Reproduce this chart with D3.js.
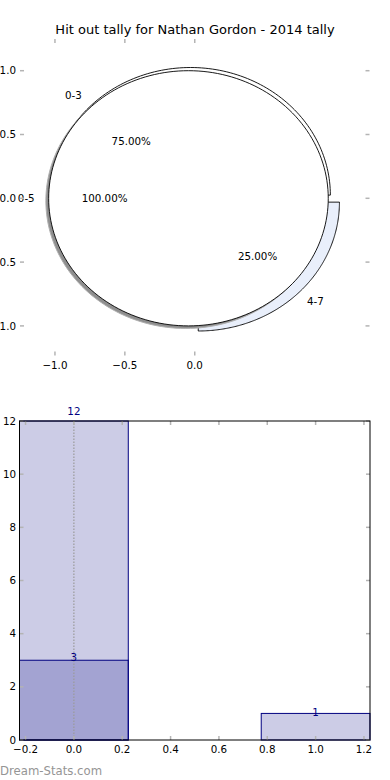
<!DOCTYPE html>
<html>
<head>
<meta charset="utf-8">
<script src="https://cdn.jsdelivr.net/npm/d3@7"></script>
<style>
  body { margin: 0; background: #fff; }
  text { font-family: "DejaVu Sans", sans-serif; }
</style>
</head>
<body>
<svg id="chart" width="390" height="780"></svg>
<script>
const title = "Hit out tally for Nathan Gordon - 2014 tally";

// pie: full range, then split
const outerLabels = ["0-5"];
const outerValues = [4];
const innerLabels = ["0-3", "4-7"];
const innerValues = [3, 1];
const pieTicksX = [-1.0, -0.5, 0.0];
const pieTicksY = [1.0, 0.5, 0.0, -0.5, -1.0];

// bars
const barCategories = [0, 1];
const barTotals = [12, 1];
const barSubset = [3, 0];
const barTicksX = [-0.2, 0.0, 0.2, 0.4, 0.6, 0.8, 1.0, 1.2];
const barTicksY = [0, 2, 4, 6, 8, 10, 12];

const svg = d3.select("#chart");
const fmt1 = (d) => d3.format(".1f")(d).replace("-", "\u2212");
const tickColor = "#b4b4b4";
const fs = "10.3px";

svg.append("text")
  .attr("x", 195)
  .attr("y", 34)
  .attr("text-anchor", "middle")
  .style("font-size", "13px")
  .text(title);

// ---------- pie ----------
const px = d3.scaleLinear().domain([-1.25, 1.25]).range([20, 369.5]);
const py = d3.scaleLinear().domain([-1.25, 1.25]).range([357.8, 38.8]);
const pieG = svg.append("g");

const line = d3.line().x((p) => px(p[0])).y((p) => py(p[1]));

// angles counter-clockwise from +x, like the original
const wedgePoints = (c, r, a0, a1) => {
  const pts = [];
  const n = 180;
  for (let i = 0; i <= n; i++) {
    const a = a0 + (a1 - a0) * (i / n);
    pts.push([c[0] + r * Math.cos(a), c[1] + r * Math.sin(a)]);
  }
  if (a1 - a0 < Math.PI * 2 - 1e-6) {
    pts.push(c);
    pts.push(pts[0]);
  }
  return pts;
};

const pie = d3.pie().sort(null).startAngle(0).endAngle(Math.PI * 2);
const outerArcs = pie(outerValues);
const innerArcs = pie(innerValues);

const outerCenter = [-0.045, 0];
const innerCenters = [[-0.03, 0.025], [0.025, -0.03]];
const innerRadii = [1.0, 1.01];
const innerFills = ["#ffffff", "#e9effb"];

const pct = (d, arr) => d3.format(".2f")((100 * d.value) / d3.sum(arr)) + "%";

// inner (split) pie first
innerArcs.forEach((d, i) => {
  pieG.append("path")
    .attr("d", line(wedgePoints(innerCenters[i], innerRadii[i], d.startAngle, d.endAngle)))
    .attr("fill", innerFills[i])
    .attr("stroke", "#000")
    .attr("stroke-width", 0.9);
});

// outer pie with shadow
outerArcs.forEach((d) => {
  const sc = [outerCenter[0] - 0.02, outerCenter[1] - 0.02];
  pieG.append("path")
    .attr("d", line(wedgePoints(sc, 1.0, d.startAngle, d.endAngle)))
    .attr("fill", "#8f8f8f")
    .attr("stroke", "#b0b0b0")
    .attr("stroke-width", 1);
  pieG.append("path")
    .attr("d", line(wedgePoints(outerCenter, 1.0, d.startAngle, d.endAngle)))
    .attr("fill", "#ffffff")
    .attr("stroke", "#000")
    .attr("stroke-width", 0.9);
});

const addPieLabels = (arcs, labels, values, centers) => {
  arcs.forEach((d, i) => {
    const c = centers[i];
    const mid = (d.startAngle + d.endAngle) / 2;
    const lx = c[0] + 1.1 * Math.cos(mid);
    const ly = c[1] + 1.1 * Math.sin(mid);
    pieG.append("text")
      .attr("x", px(lx))
      .attr("y", py(ly))
      .attr("dy", "0.35em")
      .attr("text-anchor", lx < 0 ? "end" : "start")
      .style("font-size", fs)
      .text(labels[i]);
    pieG.append("text")
      .attr("x", px(c[0] + 0.6 * Math.cos(mid)))
      .attr("y", py(c[1] + 0.6 * Math.sin(mid)))
      .attr("dy", "0.35em")
      .attr("text-anchor", "middle")
      .style("font-size", fs)
      .text(pct(d, values));
  });
};
addPieLabels(innerArcs, innerLabels, innerValues, innerCenters);
addPieLabels(outerArcs, outerLabels, outerValues, [outerCenter]);

// pie axes: ticks only, no frame
const pieAxes = svg.append("g");
pieTicksY.forEach((t) => {
  pieAxes.append("line").attr("x1", 20).attr("x2", 24).attr("y1", py(t)).attr("y2", py(t));
  pieAxes.append("line").attr("x1", 365.5).attr("x2", 369.5).attr("y1", py(t)).attr("y2", py(t));
  pieAxes.append("text")
    .attr("x", 16)
    .attr("y", py(t))
    .attr("dy", "0.35em")
    .attr("text-anchor", "end")
    .style("font-size", fs)
    .text(fmt1(t));
});
pieTicksX.forEach((t) => {
  pieAxes.append("line").attr("x1", px(t)).attr("x2", px(t)).attr("y1", 39).attr("y2", 43);
  pieAxes.append("line").attr("x1", px(t)).attr("x2", px(t)).attr("y1", 351.5).attr("y2", 355.5);
  pieAxes.append("text")
    .attr("x", px(t))
    .attr("y", 369)
    .attr("text-anchor", "middle")
    .style("font-size", fs)
    .text(fmt1(t));
});
pieAxes.selectAll("line").attr("stroke", tickColor).attr("stroke-width", 1.5);

// ---------- bars ----------
const bx = d3.scaleLinear().domain([-0.225, 1.225]).range([19.5, 370]);
const by = d3.scaleLinear().domain([0, 12]).range([740, 421]);
const barW = 0.45;
const barG = svg.append("g");

const drawBars = (vals) => {
  barCategories.forEach((c, i) => {
    if (vals[i] <= 0) return;
    barG.append("rect")
      .attr("x", bx(c - barW / 2))
      .attr("y", by(vals[i]))
      .attr("width", bx(c + barW / 2) - bx(c - barW / 2))
      .attr("height", by(0) - by(vals[i]))
      .attr("fill", "navy")
      .attr("fill-opacity", 0.2)
      .attr("stroke", "navy")
      .attr("stroke-width", 1);
  });
};
drawBars(barTotals);
drawBars(barSubset);

barG.append("line")
  .attr("x1", bx(0)).attr("x2", bx(0))
  .attr("y1", by(0)).attr("y2", by(12))
  .attr("stroke", "#9a9a9a")
  .attr("stroke-width", 1.2)
  .attr("stroke-dasharray", "1.5,1.5");

const addBarLabels = (vals) => {
  barCategories.forEach((c, i) => {
    if (vals[i] <= 0) return;
    barG.append("text")
      .attr("x", bx(c))
      .attr("y", by(vals[i] * 1.03))
      .attr("dy", "0.35em")
      .attr("text-anchor", "middle")
      .attr("fill", "navy")
      .style("font-size", fs)
      .text(vals[i]);
  });
};
addBarLabels(barTotals);
addBarLabels(barSubset);

const barAxes = svg.append("g");
barTicksY.forEach((t) => {
  barAxes.append("line").attr("class", "tk").attr("x1", 19.5).attr("x2", 23.5).attr("y1", by(t)).attr("y2", by(t));
  barAxes.append("line").attr("class", "tk").attr("x1", 366).attr("x2", 370).attr("y1", by(t)).attr("y2", by(t));
  barAxes.append("text")
    .attr("x", 16)
    .attr("y", by(t))
    .attr("dy", "0.35em")
    .attr("text-anchor", "end")
    .style("font-size", fs)
    .text(t);
});
barTicksX.forEach((t) => {
  barAxes.append("line").attr("class", "tk").attr("x1", bx(t)).attr("x2", bx(t)).attr("y1", 421).attr("y2", 425);
  barAxes.append("line").attr("class", "tk").attr("x1", bx(t)).attr("x2", bx(t)).attr("y1", 736).attr("y2", 740);
  barAxes.append("text")
    .attr("x", bx(t))
    .attr("y", 753)
    .attr("text-anchor", "middle")
    .style("font-size", fs)
    .text(fmt1(t));
});
barAxes.selectAll("line.tk").attr("stroke", tickColor).attr("stroke-width", 1.5);

barAxes.append("rect")
  .attr("x", 19.5)
  .attr("y", 421)
  .attr("width", 350.5)
  .attr("height", 319)
  .attr("fill", "none")
  .attr("stroke", "#000")
  .attr("stroke-width", 1);

svg.append("text")
  .attr("x", 0)
  .attr("y", 775)
  .attr("fill", "#959595")
  .style("font-size", "11.7px")
  .text("Dream-Stats.com");
</script>
</body>
</html>
